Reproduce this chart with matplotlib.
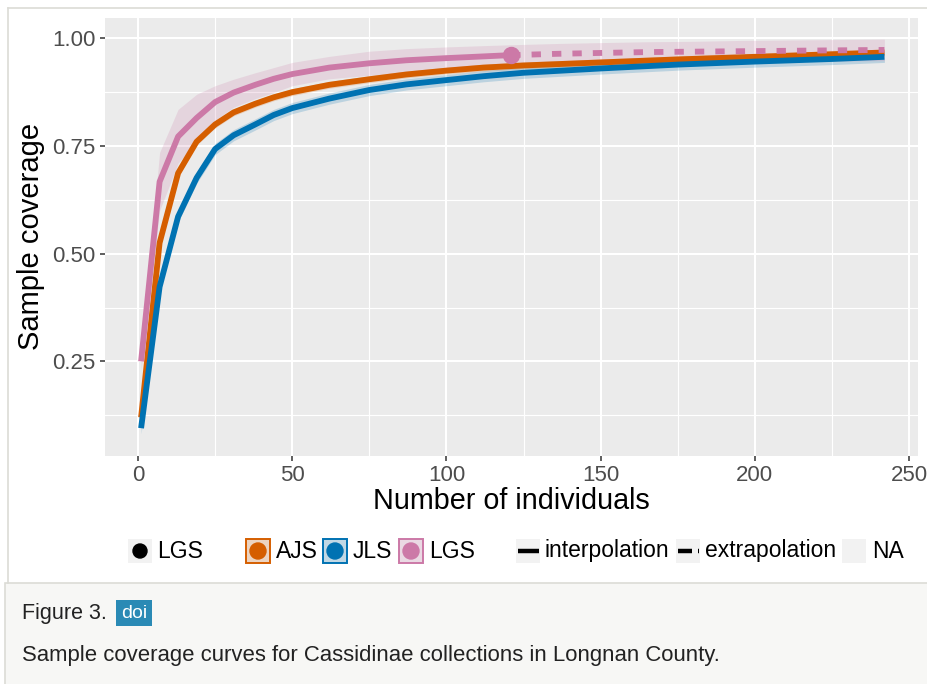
import matplotlib.pyplot as plt
from matplotlib.patches import Rectangle, Circle
import numpy as np

# ---- data ----
lgs_x = [1, 7, 13, 19, 25, 31, 38, 44, 50, 62, 75, 87, 100, 112, 121]
lgs_y = [0.25, 0.667, 0.772, 0.815, 0.852, 0.874, 0.892, 0.906, 0.917,
         0.932, 0.942, 0.949, 0.954, 0.958, 0.961]
lgs_lo = [0.23, 0.60, 0.71, 0.76, 0.81, 0.84, 0.86, 0.874, 0.89,
          0.906, 0.914, 0.922, 0.928, 0.933, 0.937]
lgs_hi = [0.27, 0.735, 0.835, 0.87, 0.89, 0.905, 0.92, 0.932, 0.944,
          0.958, 0.970, 0.976, 0.980, 0.983, 0.985]

lgs_ext_x = [121, 136, 150, 165, 180, 195, 210, 225, 242]
lgs_ext_y = [0.961, 0.964, 0.966, 0.968, 0.969, 0.970, 0.971, 0.972, 0.973]
lgs_ext_lo = [0.937, 0.940, 0.942, 0.943, 0.944, 0.945, 0.946, 0.947, 0.948]
lgs_ext_hi = [0.985, 0.988, 0.990, 0.992, 0.993, 0.995, 0.996, 0.997, 0.998]

ref_x = [1, 7, 13, 19, 25, 31, 38, 44, 50, 62, 75, 87, 100, 112, 125,
         150, 175, 200, 225, 242]
ajs_y = [0.12, 0.525, 0.687, 0.76, 0.80, 0.828, 0.848, 0.863, 0.875, 0.892,
         0.905, 0.916, 0.925, 0.932, 0.937, 0.944, 0.951, 0.957, 0.963, 0.967]
jls_y = [0.095, 0.423, 0.586, 0.676, 0.743, 0.775, 0.80, 0.822, 0.838, 0.860,
         0.880, 0.893, 0.903, 0.912, 0.920, 0.930, 0.939, 0.946, 0.952, 0.957]
ajs_err = 0.008
jls_err = 0.013

lgs_obs = (121, 0.961)

c_ajs = '#D55E00'
c_jls = '#0072B2'
c_lgs = '#CC79A7'

plt.rcParams['font.family'] = ['Liberation Sans', 'DejaVu Sans']

W, H = 927, 684
fig = plt.figure(figsize=(W / 100, H / 100), dpi=100)
fig.patch.set_facecolor('white')

# background overlay in pixel coordinates (borders, legend, caption)
bg = fig.add_axes([0, 0, 1, 1], zorder=0)
bg.set_xlim(0, W)
bg.set_ylim(H, 0)
bg.axis('off')

# panel
l, r, t, b = 104.6, 918, 17.5, 456
ax = fig.add_axes([l / W, 1 - b / H, (r - l) / W, (b - t) / H], zorder=2)
ax.set_facecolor('#EBEBEB')
for s in ax.spines.values():
    s.set_visible(False)
ax.set_xlim(-10.83, 252.9)
ax.set_ylim(0.0304, 1.0483)
ax.set_xticks([0, 50, 100, 150, 200, 250])
ax.set_yticks([0.25, 0.50, 0.75, 1.00])
ax.set_yticklabels(['0.25', '0.50', '0.75', '1.00'])
ax.set_xticks([25, 75, 125, 175, 225], minor=True)
ax.set_yticks([0.125, 0.375, 0.625, 0.875], minor=True)
ax.grid(which='major', color='white', lw=1.5)
ax.grid(which='minor', color='white', lw=0.8)
ax.set_axisbelow(True)
ax.tick_params(which='major', length=3.5, width=1.1, color='#333333',
               labelsize=16, labelcolor='#4D4D4D', pad=3)
ax.tick_params(which='minor', length=0)
ax.set_xlabel('Number of individuals', fontsize=20.7, color='black', labelpad=1)
ax.set_ylabel('Sample coverage', fontsize=21, color='black', labelpad=5)

# ribbons
ajs_arr = np.array(ajs_y)
jls_arr = np.array(jls_y)
ax.fill_between(ref_x, ajs_arr - ajs_err, ajs_arr + ajs_err, color=c_ajs, alpha=0.2, lw=0)
ax.fill_between(ref_x, jls_arr - jls_err, jls_arr + jls_err, color=c_jls, alpha=0.2, lw=0)
ax.fill_between(lgs_x, lgs_lo, lgs_hi, color=c_lgs, alpha=0.2, lw=0)
ax.fill_between(lgs_ext_x, lgs_ext_lo, lgs_ext_hi, color=c_lgs, alpha=0.2, lw=0)

# lines
ax.plot(ref_x, ajs_y, color=c_ajs, lw=4.2, solid_capstyle='butt')
ax.plot(ref_x, jls_y, color=c_jls, lw=4.2, solid_capstyle='butt')
ax.plot(lgs_x, lgs_y, color=c_lgs, lw=4.2, solid_capstyle='butt')
ext, = ax.plot(lgs_ext_x, lgs_ext_y, color=c_lgs, lw=4.2, dash_capstyle='butt')
ext.set_dashes([1.6, 1.9])
ax.plot(*lgs_obs, 'o', color=c_lgs, ms=11.5)

# outer border of the figure
bg.plot([8, W], [8, 8], color='#DCDCD6', lw=1.2)
bg.plot([8, 8], [8, 583], color='#DCDCD6', lw=1.2)

# legend row
ly = 551
key_bg = '#F2F2F2'
fs = 16.5
bg.add_patch(Rectangle((128, ly - 12), 24, 24, color=key_bg, lw=0))
bg.add_patch(Circle((140, ly), 7, color='black'))
bg.text(157, ly, 'LGS', fontsize=fs, va='center', ha='left')

for x0, c, lab in [(246, c_ajs, 'AJS'), (323, c_jls, 'JLS'), (399, c_lgs, 'LGS')]:
    bg.add_patch(Rectangle((x0, ly - 12), 24, 24, facecolor=key_bg, lw=0))
    bg.add_patch(Rectangle((x0, ly - 12), 24, 24, facecolor=c, alpha=0.2, lw=0))
    bg.add_patch(Rectangle((x0, ly - 12), 24, 24, facecolor='none', edgecolor=c, lw=1.4))
    bg.add_patch(Circle((x0 + 12, ly), 8, color=c))
    bg.text(x0 + 30, ly, lab, fontsize=fs, va='center', ha='left')

bg.add_patch(Rectangle((516, ly - 12), 24, 24, color=key_bg, lw=0))
bg.plot([518, 539], [ly, ly], color='black', lw=3.2, solid_capstyle='butt')
bg.text(545, ly, 'interpolation', fontsize=fs, va='center', ha='left')

bg.add_patch(Rectangle((676, ly - 12), 24, 24, color=key_bg, lw=0))
bg.plot([678, 692], [ly, ly], color='black', lw=3.2, solid_capstyle='butt')
bg.plot([698, 699.5], [ly, ly], color='black', lw=3.2, solid_capstyle='butt')
bg.text(705, ly, 'extrapolation', fontsize=fs, va='center', ha='left')

bg.add_patch(Rectangle((842, ly - 12), 24, 24, color=key_bg, lw=0))
bg.text(872, ly, 'NA', fontsize=fs, va='center', ha='left')

# caption box
bg.add_patch(Rectangle((5, 583), W, 110, facecolor='#F7F7F5', edgecolor='#DCDCD6', lw=1.2))
bg.text(22, 614, 'Figure 3.', fontsize=15.5, va='center', ha='left', color='#222222')
bg.add_patch(Rectangle((116, 600), 36, 26, color='#2A8AB5', lw=0))
bg.text(134, 613, 'doi', fontsize=14, va='center', ha='center', color='white')
bg.text(22, 655, 'Sample coverage curves for Cassidinae collections in Longnan County.',
        fontsize=15.9, va='center', ha='left', color='#222222')

fig.savefig('out.png', dpi=100)
